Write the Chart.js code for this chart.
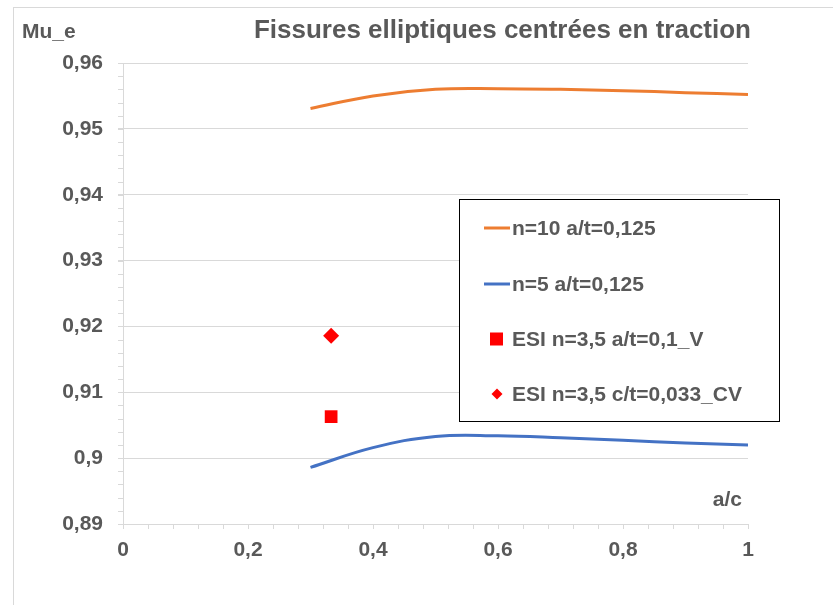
<!DOCTYPE html>
<html>
<head>
<meta charset="utf-8">
<script src="https://cdn.jsdelivr.net/npm/chart.js@4.4.1/dist/chart.umd.min.js"></script>
<style>
  html, body { margin: 0; padding: 0; background: #fff; }
  #wrap { width: 833px; height: 605px; position: relative; }
</style>
</head>
<body>
<div id="wrap"><canvas id="chart" width="833" height="605"></canvas></div>
<script>
// a/c values and Mu_e
const acValues = [0.3, 0.4, 0.5, 0.6, 0.7, 0.8, 0.9, 1];
const muN10 = [0.9531, 0.9550, 0.9560, 0.9561, 0.9560, 0.9558, 0.9555, 0.9552];
const muN5 = [0.8986, 0.9016, 0.9033, 0.9034, 0.9031, 0.9027, 0.9023, 0.9020];
const esiVX = [0.333];
const esiVY = [0.9063];
const esiCVX = [0.333];
const esiCVY = [0.9186];

const labels = ['n=10 a/t=0,125', 'n=5 a/t=0,125', 'ESI n=3,5 a/t=0,1_V', 'ESI n=3,5 c/t=0,033_CV'];
const titleText = 'Fissures elliptiques centrées en traction';

const textColor = '#595959';
const gridColor = '#d9d9d9';
const fontFam = '"Liberation Sans", Arial, sans-serif';

function pts(xs, ys) {
    return xs.map((x, i) => ({ x: x, y: ys[i] }));
}
function fmt(v) {
    return String(Math.round(v * 1000) / 1000).replace('.', ',');
}

const decorPlugin = {
    id: 'decor',
    beforeDraw(chart) {
        const ctx = chart.ctx;
        ctx.save();
        ctx.fillStyle = '#fff';
        ctx.fillRect(0, 0, chart.width, chart.height);
        ctx.strokeStyle = gridColor;
        ctx.lineWidth = 1;
        ctx.strokeRect(13.5, 7.5, chart.width + 20, chart.height + 20);
        ctx.restore();
    },
    afterDraw(chart) {
        const ctx = chart.ctx;
        const xs = chart.scales.x, ys = chart.scales.y;
        const area = chart.chartArea;
        ctx.save();
        // minor ticks
        ctx.strokeStyle = gridColor;
        ctx.lineWidth = 1;
        ctx.beginPath();
        for (let v = 0.89; v <= 0.9601; v += 0.002) {
            const y = Math.round(ys.getPixelForValue(v)) + 0.5;
            ctx.moveTo(area.left - 5, y);
            ctx.lineTo(area.left, y);
        }
        for (let v = 0; v <= 1.0001; v += 0.04) {
            const x = Math.round(xs.getPixelForValue(v)) + 0.5;
            ctx.moveTo(x, area.bottom);
            ctx.lineTo(x, area.bottom + 5);
        }
        ctx.stroke();

        // texts
        ctx.fillStyle = textColor;
        ctx.textBaseline = 'alphabetic';
        ctx.font = 'bold 26px ' + fontFam;
        ctx.textAlign = 'right';
        ctx.fillText(titleText, 751, 38);
        ctx.font = 'bold 21px ' + fontFam;
        ctx.textAlign = 'left';
        ctx.fillText('Mu_e', 22, 38);
        ctx.textAlign = 'right';
        ctx.fillText('a/c', 742, 506);

        // legend box
        const lx = 459, ly = 199, lw = 320, lh = 222;
        ctx.fillStyle = '#fff';
        ctx.fillRect(lx, ly, lw, lh);
        ctx.strokeStyle = '#000';
        ctx.lineWidth = 1;
        ctx.strokeRect(lx + 0.5, ly + 0.5, lw, lh);
        const ds = chart.data.datasets;
        ctx.font = 'bold 21px ' + fontFam;
        ctx.textAlign = 'left';
        ctx.textBaseline = 'middle';
        const rowY = [228, 284, 339, 394];
        ds.forEach((d, i) => {
            const y = rowY[i];
            if (d.showLine) {
                ctx.strokeStyle = d.borderColor;
                ctx.lineWidth = 3;
                ctx.beginPath();
                ctx.moveTo(484, y);
                ctx.lineTo(510, y);
                ctx.stroke();
            } else if (d.pointStyle === 'rect') {
                ctx.fillStyle = d.backgroundColor;
                ctx.fillRect(490, y - 6.5, 13, 13);
            } else {
                ctx.fillStyle = d.backgroundColor;
                ctx.beginPath();
                ctx.moveTo(497, y - 5.5);
                ctx.lineTo(502.5, y);
                ctx.lineTo(497, y + 5.5);
                ctx.lineTo(491.5, y);
                ctx.closePath();
                ctx.fill();
            }
            ctx.fillStyle = textColor;
            ctx.fillText(d.label, 512, y + 1);
        });
        ctx.restore();
    }
};

const ctx = document.getElementById('chart').getContext('2d');
new Chart(ctx, {
    type: 'scatter',
    data: {
        datasets: [{
            label: labels[0],
            data: pts(acValues, muN10),
            showLine: true,
            borderColor: '#ed7d31',
            backgroundColor: '#ed7d31',
            borderWidth: 3,
            pointRadius: 0,
            tension: 0.4
        }, {
            label: labels[1],
            data: pts(acValues, muN5),
            showLine: true,
            borderColor: '#4472c4',
            backgroundColor: '#4472c4',
            borderWidth: 3,
            pointRadius: 0,
            tension: 0.4
        }, {
            label: labels[2],
            data: pts(esiVX, esiVY),
            showLine: false,
            pointStyle: 'rect',
            pointRadius: 9,
            borderWidth: 0,
            borderColor: '#ff0000',
            backgroundColor: '#ff0000'
        }, {
            label: labels[3],
            data: pts(esiCVX, esiCVY),
            showLine: false,
            pointStyle: 'rectRot',
            pointRadius: 8,
            borderWidth: 0,
            borderColor: '#ff0000',
            backgroundColor: '#ff0000'
        }]
    },
    options: {
        responsive: false,
        animation: false,
        layout: { padding: { top: 63, right: 85, left: 0, bottom: 0 } },
        plugins: {
            legend: { display: false },
            title: { display: false },
            tooltip: { enabled: false }
        },
        scales: {
            x: {
                type: 'linear',
                min: 0,
                max: 1,
                afterFit: (s) => { s.height = 81; },
                ticks: {
                    stepSize: 0.2,
                    color: textColor,
                    font: { family: fontFam, size: 21, weight: 'bold' },
                    padding: 9,
                    callback: (v) => fmt(v)
                },
                grid: { drawOnChartArea: false, color: gridColor, tickLength: 5 },
                border: { color: gridColor }
            },
            y: {
                type: 'linear',
                min: 0.89,
                max: 0.96,
                afterFit: (s) => { s.width = 123; },
                ticks: {
                    stepSize: 0.01,
                    color: textColor,
                    font: { family: fontFam, size: 21, weight: 'bold' },
                    padding: 15,
                    callback: (v) => fmt(v)
                },
                grid: { color: gridColor, tickLength: 5 },
                border: { color: gridColor }
            }
        }
    },
    plugins: [decorPlugin]
});
</script>
</body>
</html>
